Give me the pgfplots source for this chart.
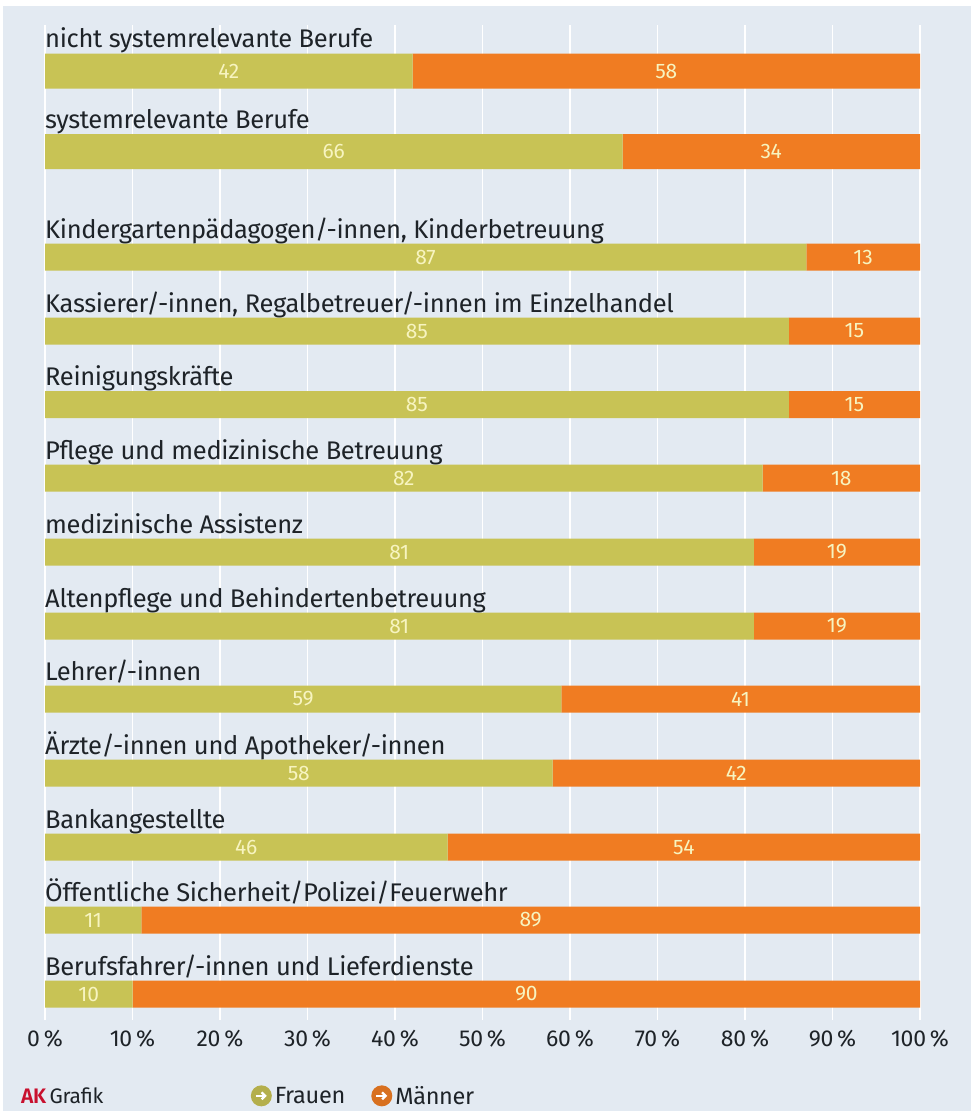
\documentclass[border=0pt]{standalone}
\usepackage{pgfplots}
\pgfplotsset{compat=1.18}
\usetikzlibrary{arrows.meta}
\usepackage{fontspec}
\setmainfont{Fira Sans}[BoldFont=* SemiBold,LetterSpace=-1.3]
\definecolor{bgc}{HTML}{E3EAF2}
\definecolor{fra}{HTML}{C8C355}
\definecolor{man}{HTML}{F07C22}
\definecolor{txt}{HTML}{1E2328}
\definecolor{lbl}{HTML}{F7F4C0}
\definecolor{akr}{HTML}{C8102E}
\newcommand{\barlabel}[2]{\node[anchor=base west,inner sep=0pt,font=\fontsize{25.5}{25.5}\selectfont,text=txt] at (axis cs:0,#1) {#2};}
\pgfplotsset{
 base/.style={
  at={(45pt,-25pt)},anchor=north west,scale only axis,width=875pt,height=995pt,
  xmin=0,xmax=100,ymin=25,ymax=1020,y dir=reverse,clip=false,
  axis line style={draw=none},tick style={draw=none},ytick=\empty,
 },
 val/.style={draw=none,fill=none,mark=none,forget plot,nodes near coords,point meta=explicit symbolic,
  every node near coord/.style={anchor=center,inner sep=0pt,text=lbl,font=\fontsize{21}{21}\selectfont}},
 legimg/.style={legend image code/.code={
   \fill[#1!90!black] (0.15cm,0cm) circle (10.5pt);
   \draw[white,line width=2.4pt,-{Straight Barb[length=3.5pt]}] (0.15cm-5.5pt,0cm) -- (0.15cm+5.5pt,0cm);}},
}
\begin{document}
\begin{tikzpicture}[x=1pt,y=1pt]
\fill[white] (0,0) rectangle (971,-1111);
\fill[bgc] (3,-6) rectangle (971,-1111);
% lower group, carries grid, ticks and legend
\begin{axis}[base,xbar stacked,
  xtick={0,10,...,100},
  xticklabel={\pgfmathprintnumber{\tick}\,\%},
  xticklabel style={text=txt,font=\fontsize{23}{23}\selectfont,yshift=-7pt},
  /pgf/number format/assume math mode=true,
  xmajorgrids,grid style={white,line width=1.2pt},
  bar width=27pt,
  legend style={at={(axis description cs:0.235,-0.0762)},anchor=west,draw=none,fill=none,legend columns=2,
    font=\fontsize{23.5}{23.5}\selectfont,text=txt,inner sep=0pt,
    /tikz/every odd column/.append style={column sep=1pt},
    /tikz/every even column/.append style={column sep=24pt}},
]
\addplot[fill=fra,draw=none,legimg=fra]
 coordinates {(87,257)(85,331)(85,404.5)(82,478)(81,552)(81,626)(59,699)(58,773)(46,847)(11,920)(10,994)};
\addplot[fill=man,draw=none,legimg=man]
 coordinates {(13,257)(15,331)(15,404.5)(18,478)(19,552)(19,626)(41,699)(42,773)(54,847)(89,920)(90,994)};
\legend{Frauen,Männer}
\end{axis}
% upper group, thicker bars
\begin{axis}[base,xbar stacked,xtick=\empty,bar width=35pt]
\addplot[fill=fra,draw=none] coordinates {(42,71)(66,151.5)};
\addplot[fill=man,draw=none] coordinates {(58,71)(34,151.5)};
\end{axis}
% value and category labels
\begin{axis}[base,xtick=\empty]
\addplot[val] table[meta=v,x=x,y=y] {
x y v
21 71 42
71 71 58
33 151.5 66
83 151.5 34
43.5 257 87
93.5 257 13
42.5 331 85
92.5 331 15
42.5 404.5 85
92.5 404.5 15
41 478 82
91 478 18
40.5 552 81
90.5 552 19
40.5 626 81
90.5 626 19
29.5 699 59
79.5 699 41
29 773 58
79 773 42
23 847 46
73 847 54
5.5 920 11
55.5 920 89
5 994 10
55 994 90
};
\barlabel{47}{nicht systemrelevante Berufe}
\barlabel{128}{systemrelevante Berufe}
\barlabel{238}{Kindergartenpädagogen/-innen, Kinderbetreuung}
\barlabel{312}{Kassierer/-innen, Regalbetreuer/-innen im Einzelhandel}
\barlabel{385}{Reinigungskräfte}
\barlabel{459}{Pflege und medizinische Betreuung}
\barlabel{533}{medizinische Assistenz}
\barlabel{607}{Altenpflege und Behindertenbetreuung}
\barlabel{680}{Lehrer/-innen}
\barlabel{754}{Ärzte/-innen und Apotheker/-innen}
\barlabel{828}{Bankangestellte}
\barlabel{901}{Öffentliche Sicherheit/Polizei/Feuerwehr}
\barlabel{975}{Berufsfahrer/-innen und Lieferdienste}
\node[anchor=base west,inner sep=0pt,font=\fontsize{21}{21}\selectfont,text=txt] at (axis cs:-2.75,1103) {\textcolor{akr}{\textbf{AK}}\,Grafik};
\end{axis}
\end{tikzpicture}
\end{document}
